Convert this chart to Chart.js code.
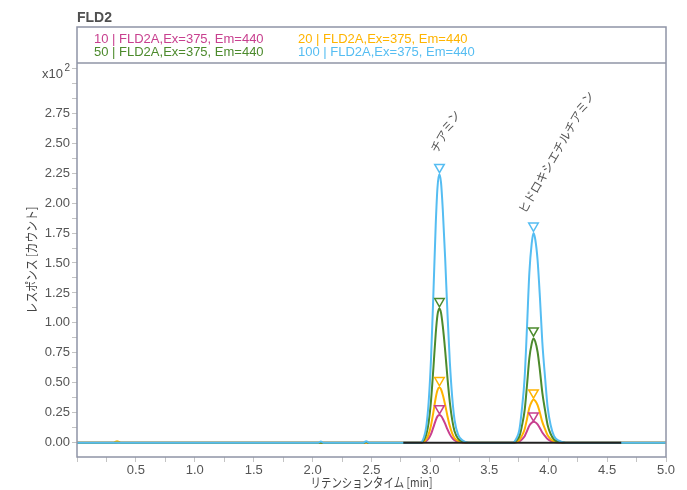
<!DOCTYPE html>
<html>
<head>
<meta charset="utf-8">
<script src="https://cdn.jsdelivr.net/npm/chart.js@4.4.1/dist/chart.umd.min.js"></script>
<style>
  html, body { margin: 0; padding: 0; background: #fff; }
  #wrap { width: 687px; height: 490px; }
</style>
</head>
<body>
<div id="wrap"><canvas id="myCanvas" width="687" height="490"></canvas></div>
<script>
// --- chart data (x = retention time [min], y = response x10^2) ---
const chartTitle = 'FLD2';
const xTitle = 'リテンションタイム [min]';
const yTitle = 'レスポンス [カウント]';
const seriesLabels = ['10 | FLD2A,Ex=375, Em=440', '20 | FLD2A,Ex=375, Em=440',
                      '50 | FLD2A,Ex=375, Em=440', '100 | FLD2A,Ex=375, Em=440'];
const seriesColors = ['#c8408f', '#ffb400', '#4c8a2c', '#55bdf2'];
const xTickLabels = ['0.5', '1.0', '1.5', '2.0', '2.5', '3.0', '3.5', '4.0', '4.5', '5.0'];
const yTickLabels = ['0.00', '0.25', '0.50', '0.75', '1.00', '1.25', '1.50', '1.75', '2.00', '2.25', '2.50', '2.75'];
const peakNames = ['チアミン', 'ヒドロキシエチルチアミン'];

const baseTime = [0, 5];
const peak1Time = [2.915, 2.945, 2.965, 2.985, 3.005, 3.025, 3.045, 3.06, 3.075, 3.09, 3.105, 3.125, 3.145, 3.165, 3.185, 3.205, 3.235, 3.275, 3.325];
const peak2Time = [3.70, 3.73, 3.755, 3.775, 3.80, 3.82, 3.84, 3.86, 3.875, 3.89, 3.91, 3.93, 3.95, 3.975, 3.995, 4.02, 4.05, 4.095, 4.15];

const s10Peak1 = [0, 0.005, 0.014, 0.035, 0.071, 0.127, 0.186, 0.219, 0.23, 0.223, 0.2, 0.159, 0.11, 0.069, 0.039, 0.02, 0.007, 0.002, 0];
const s10Peak2 = [0, 0.004, 0.011, 0.026, 0.054, 0.096, 0.142, 0.166, 0.175, 0.17, 0.152, 0.121, 0.084, 0.053, 0.03, 0.015, 0.005, 0.001, 0];
const s20Peak1 = [0, 0.009, 0.028, 0.069, 0.143, 0.253, 0.373, 0.437, 0.46, 0.446, 0.4, 0.317, 0.221, 0.138, 0.078, 0.039, 0.014, 0.004, 0];
const s20Peak2 = [0, 0.007, 0.022, 0.054, 0.112, 0.198, 0.292, 0.342, 0.36, 0.349, 0.313, 0.248, 0.173, 0.108, 0.061, 0.031, 0.011, 0.003, 0];
const s50Peak1 = [0, 0.022, 0.067, 0.168, 0.347, 0.616, 0.907, 1.064, 1.12, 1.086, 0.974, 0.773, 0.538, 0.336, 0.19, 0.095, 0.034, 0.009, 0];
const s50Peak2 = [0, 0.017, 0.052, 0.131, 0.27, 0.479, 0.705, 0.827, 0.87, 0.844, 0.757, 0.6, 0.418, 0.261, 0.148, 0.074, 0.026, 0.007, 0];
const s100Peak1 = [0, 0.045, 0.134, 0.336, 0.694, 1.232, 1.814, 2.128, 2.24, 2.173, 1.949, 1.546, 1.075, 0.672, 0.381, 0.19, 0.067, 0.018, 0];
const s100Peak2 = [0, 0.035, 0.105, 0.263, 0.543, 0.963, 1.418, 1.663, 1.75, 1.698, 1.523, 1.208, 0.84, 0.525, 0.298, 0.149, 0.053, 0.014, 0];

// tiny bumps on the baseline
const s10BlipTime = [0.33, 0.355, 0.37];
const s10Blip = [0, 0.006, 0];
const s20BlipTime = [0.31, 0.34, 0.37];
const s20Blip = [0, 0.012, 0];
const s50BlipTime = [2.44, 2.455, 2.47];
const s50Blip = [0, 0.006, 0];
const s100BlipTime = [2.05, 2.07, 2.09, 2.43, 2.455, 2.48];
const s100Blip = [0, 0.01, 0, 0, 0.012, 0];

// peak apex markers
const markerTime = [3.077, 3.875];
const s10Markers = [0.285, 0.225];
const s20Markers = [0.52, 0.417];
const s50Markers = [1.18, 0.935];
const s100Markers = [2.30, 1.81];

// integration baseline
const baselineTime = [2.77, 4.62];
const baselineValue = [0, 0];

function toPoints(times, values) {
  return times.map((t, i) => ({ x: t, y: values[i] }));
}

function buildSeries(blipTime, blip, peak1, peak2) {
  const pts = [].concat(
    toPoints(baseTime, [0, 0]),
    toPoints(blipTime, blip),
    toPoints(peak1Time, peak1),
    toPoints(peak2Time, peak2)
  );
  return pts.sort((a, b) => a.x - b.x);
}

const seriesData = [
  buildSeries(s10BlipTime, s10Blip, s10Peak1, s10Peak2),
  buildSeries(s20BlipTime, s20Blip, s20Peak1, s20Peak2),
  buildSeries(s50BlipTime, s50Blip, s50Peak1, s50Peak2),
  buildSeries(s100BlipTime, s100Blip, s100Peak1, s100Peak2)
];
const markerData = [s10Markers, s20Markers, s50Markers, s100Markers];

const frameColor = '#8f94a6';
const textColor = '#505050';
const latin = '"Liberation Sans", Arial, sans-serif';
const cjk = '"Noto Sans CJK JP", sans-serif';

const datasets = [];
seriesData.forEach((data, i) => {
  datasets.push({
    label: seriesLabels[i],
    data: data,
    borderColor: seriesColors[i],
    borderWidth: 2,
    pointRadius: 0,
    cubicInterpolationMode: 'monotone',
    fill: false,
    order: 5 - i   // 100 drawn on top along the baseline
  });
});
datasets.push({
  label: 'baseline',
  data: toPoints(baselineTime, baselineValue),
  borderColor: '#222222',
  borderWidth: 2,
  pointRadius: 0,
  order: 1
});
markerData.forEach((vals, i) => {
  datasets.push({
    label: 'marker ' + seriesLabels[i],
    data: toPoints(markerTime, vals),
    showLine: false,
    pointStyle: 'triangle',
    rotation: 180,
    pointRadius: 5.5,
    borderWidth: 1.5,
    borderColor: seriesColors[i],
    backgroundColor: 'rgba(255,255,255,0)',
    order: 0
  });
});

// small nudges for the rotated peak names
const nameOffsets = [[-6, -16], [-12, -14]];

const decorPlugin = {
  id: 'decor',
  afterDatasetsDraw(chart) {
    const ctx = chart.ctx;
    const area = chart.chartArea;
    const xs = chart.scales.x;
    const ys = chart.scales.y;
    ctx.save();

    // frame around legend + plot
    ctx.strokeStyle = frameColor;
    ctx.lineWidth = 1.5;
    ctx.strokeRect(area.left, 27, area.right - area.left, area.bottom - 27);
    ctx.beginPath();
    ctx.moveTo(area.left, area.top);
    ctx.lineTo(area.right, area.top);
    ctx.stroke();

    // title
    ctx.fillStyle = textColor;
    ctx.font = 'bold 14px ' + latin;
    ctx.textBaseline = 'middle';
    ctx.textAlign = 'left';
    ctx.fillText(chartTitle, area.left, 18);

    // legend, two columns
    ctx.font = '13px ' + latin;
    const cols = [94, 298];
    const rows = [39, 52];
    seriesLabels.forEach((lab, i) => {
      ctx.fillStyle = seriesColors[i];
      ctx.fillText(lab, cols[i % 2], rows[Math.floor(i / 2)]);
    });

    // x10^2 exponent label
    ctx.fillStyle = textColor;
    ctx.textAlign = 'right';
    ctx.font = '13px ' + latin;
    ctx.fillText('x10', 63, 74);
    ctx.font = '10px ' + latin;
    ctx.fillText('2', 70, 68);

    // axis titles (condensed like the source)
    ctx.fillStyle = '#444444';
    ctx.font = '13px ' + cjk;
    ctx.textAlign = 'center';
    ctx.save();
    ctx.translate((area.left + area.right) / 2, 482);
    ctx.scale(0.8, 1);
    ctx.fillText(xTitle, 0, 0);
    ctx.restore();
    ctx.save();
    ctx.translate(31, (area.top + area.bottom) / 2);
    ctx.rotate(-Math.PI / 2);
    ctx.scale(0.83, 1);
    ctx.fillText(yTitle, 0, 0);
    ctx.restore();

    // peak names
    ctx.fillStyle = '#555555';
    ctx.font = '12px ' + cjk;
    ctx.textAlign = 'left';
    peakNames.forEach((name, i) => {
      const px = xs.getPixelForValue(markerTime[i]);
      const py = ys.getPixelForValue(s100Markers[i]);
      ctx.save();
      ctx.translate(px + nameOffsets[i][0], py + nameOffsets[i][1]);
      ctx.rotate(-Math.PI / 3);
      ctx.scale(0.96, 1);
      ctx.fillText(name, 0, 0);
      ctx.restore();
    });
    ctx.restore();
  }
};

const ctx = document.getElementById('myCanvas').getContext('2d');
const chart = new Chart(ctx, {
  type: 'line',
  data: { datasets: datasets },
  options: {
    responsive: false,
    devicePixelRatio: 1,
    animation: false,
    layout: { padding: { top: 63, right: 21, bottom: 0, left: 0 } },
    plugins: {
      legend: { display: false },
      title: { display: false },
      tooltip: { enabled: false }
    },
    scales: {
      x: {
        type: 'linear',
        min: 0,
        max: 5,
        afterFit: (scale) => { scale.height = 33; },
        ticks: {
          stepSize: 0.25,
          autoSkip: false,
          maxRotation: 0,
          includeBounds: false,
          padding: 1,
          color: '#555555',
          font: { family: latin, size: 13 },
          callback: (v) => {
            const s = Number(v).toFixed(1);
            return xTickLabels.includes(s) && Math.abs(v - Number(s)) < 1e-6 ? s : '';
          }
        },
        grid: { drawOnChartArea: false, drawTicks: true, tickLength: 5, color: '#c4c4c4' },
        border: { display: false },
        title: { display: false }
      },
      y: {
        type: 'linear',
        min: -0.12,
        max: 3.17,
        afterFit: (scale) => { scale.width = 77; },
        ticks: {
          stepSize: 0.125,
          autoSkip: false,
          includeBounds: false,
          padding: 2,
          color: '#555555',
          font: { family: latin, size: 13 },
          callback: (v) => {
            const s = Number(v).toFixed(2);
            return yTickLabels.includes(s) && Math.abs(v - Number(s)) < 1e-6 ? s : '';
          }
        },
        grid: { drawOnChartArea: false, drawTicks: true, tickLength: 5, color: '#c4c4c4' },
        border: { display: false },
        title: { display: false }
      }
    }
  },
  plugins: [decorPlugin]
});
</script>
</body>
</html>
